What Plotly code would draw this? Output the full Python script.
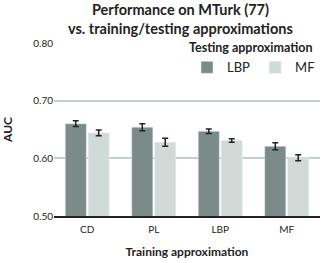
import plotly.graph_objects as go

categories = ["CD", "PL", "LBP", "MF"]
lbp_vals = [0.660, 0.654, 0.647, 0.621]
lbp_err = [0.005, 0.006, 0.004, 0.006]
mf_vals = [0.644, 0.628, 0.631, 0.601]
mf_err = [0.005, 0.007, 0.003, 0.005]

FONT = "Lato"
fig = go.Figure()
fig.add_trace(go.Bar(name="LBP", x=categories, y=lbp_vals, marker_color="#7b8c88",
                     error_y=dict(type="data", array=lbp_err, color="#222", thickness=1.5, width=3)))
fig.add_trace(go.Bar(name="MF", x=categories, y=mf_vals, marker_color="#d0dbd8",
                     error_y=dict(type="data", array=mf_err, color="#222", thickness=1.5, width=3)))

fig.update_layout(
    width=325, height=263,
    margin=dict(l=54, r=5, t=43, b=47),
    paper_bgcolor="white", plot_bgcolor="white",
    barmode="group", bargap=0.31, bargroupgap=0.08,
    font=dict(family=FONT, size=10, color="#222"),
    legend=dict(orientation="h", x=1.0, xanchor="right", y=1.04, yanchor="top",
                title=dict(text="<b>Testing approximation</b>", side="top",
                           font=dict(family=FONT, size=12.5, color="#222")),
                font=dict(family=FONT, size=13, color="#222"),
                bgcolor="rgba(0,0,0,0)", itemwidth=30, tracegroupgap=0),
    showlegend=True,
    annotations=[dict(text="<b>Performance on MTurk (77)<br>vs. training/testing approximations</b>",
                      xref="paper", yref="paper", x=0.475, y=1.0, yshift=44, yanchor="top",
                      xanchor="center", showarrow=False,
                      font=dict(family=FONT, size=14.5, color="#222"))],
)
fig.update_yaxes(range=[0.5, 0.8], tickvals=[0.5, 0.6, 0.7, 0.8],
                 ticktext=["0.50", "0.60", "0.70", "0.80"], automargin=False,
                 showgrid=True, gridcolor="#c5d0cc", gridwidth=1.5,
                 zeroline=False, showline=False, ticks="", ticklen=0,
                 title=dict(text="<b>AUC</b>", font=dict(family=FONT, size=12), standoff=18),
                 tickfont=dict(size=10))
fig.update_xaxes(showline=True, linecolor="#222", linewidth=1.5, ticks="", automargin=False,
                 ticklabelstandoff=3,
                 title=dict(text="<b>Training approximation</b>", font=dict(family=FONT, size=12), standoff=14),
                 tickfont=dict(size=10))
fig.write_html("out.html", config={"displayModeBar": False},
               post_script="document.body.style.margin='0';")
